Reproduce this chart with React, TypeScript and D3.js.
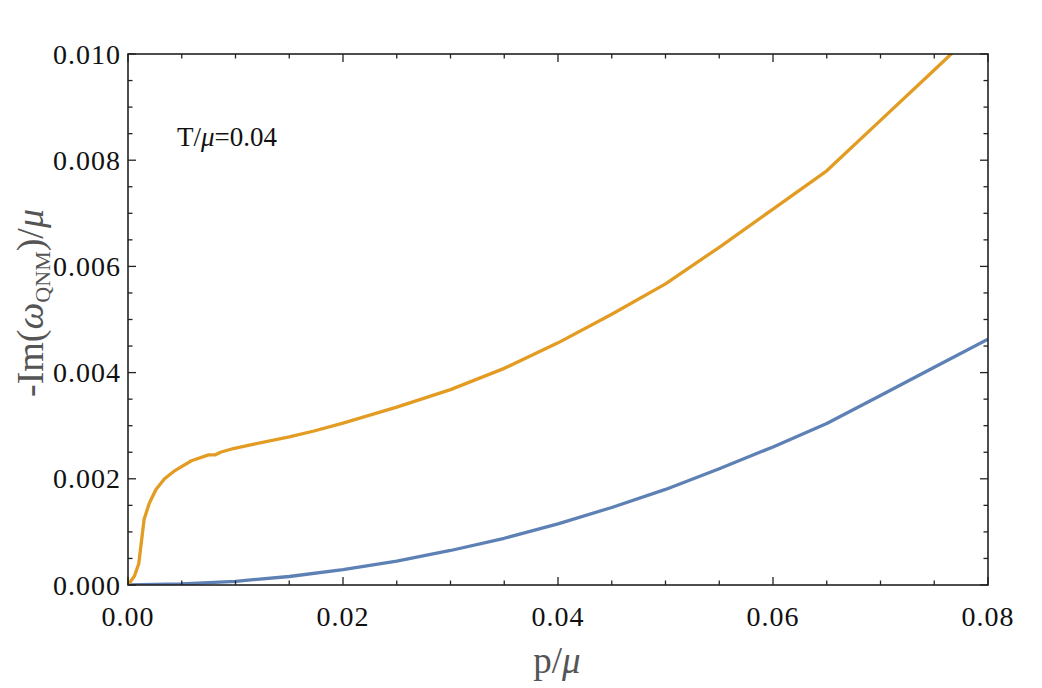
import React from "react";
import * as d3 from "d3";

const blueP = [0, 0.005, 0.01, 0.015, 0.02, 0.025, 0.03, 0.035, 0.04, 0.045, 0.05, 0.055, 0.06, 0.065, 0.07, 0.075, 0.08];
const blueV = [0, 0.00002, 0.00007, 0.00016, 0.00029, 0.00045, 0.00065, 0.00088, 0.00115, 0.00146, 0.0018, 0.00219, 0.0026, 0.00304, 0.00357, 0.0041, 0.00463];

const orangeP = [0, 0.0006, 0.001, 0.0015, 0.002, 0.0026, 0.0034, 0.0044, 0.0059, 0.0075, 0.0081, 0.0086, 0.0098, 0.0114, 0.015, 0.0173, 0.02, 0.025, 0.03, 0.035, 0.04, 0.045, 0.05, 0.055, 0.06, 0.065, 0.07, 0.075, 0.08];
const orangeV = [0, 0.00017, 0.0004, 0.00124, 0.00155, 0.0018, 0.002, 0.00216, 0.00234, 0.00245, 0.00245, 0.0025, 0.00257, 0.00264, 0.00279, 0.0029, 0.00305, 0.00335, 0.00368, 0.00408, 0.00456, 0.0051, 0.00567, 0.00636, 0.00708, 0.0078, 0.00875, 0.0097, 0.01065];

const xMajor = [0, 0.02, 0.04, 0.06, 0.08];
const xMajorLabels = ["0.00", "0.02", "0.04", "0.06", "0.08"];
const yMajor = [0, 0.002, 0.004, 0.006, 0.008, 0.01];
const yMajorLabels = ["0.000", "0.002", "0.004", "0.006", "0.008", "0.010"];

const W = 1042, H = 688;
const L = 128, R = 988, T = 54, B = 585;
const FONT = "'Liberation Serif', 'Times New Roman', serif";

export default function App() {
  const x = d3.scaleLinear().domain([0, 0.08]).range([L, R]);
  const y = d3.scaleLinear().domain([0, 0.01]).range([B, T]);
  const line = d3.line<[number, number]>().x(d => x(d[0])).y(d => y(d[1]));
  const blue = blueP.map((p, i) => [p, blueV[i]] as [number, number]);
  const orange = orangeP.map((p, i) => [p, orangeV[i]] as [number, number]);

  const xMinor = d3.range(0, 0.0801, 0.005).filter(v => !xMajor.some(m => Math.abs(m - v) < 1e-9));
  const yMinor = d3.range(0, 0.01001, 0.0005).filter(v => !yMajor.some(m => Math.abs(m - v) < 1e-9));
  const maj = 8, mn = 4.5;
  const tc = "#222";

  return (
    <svg width={W} height={H} style={{ position: "absolute", left: 0, top: 0, background: "#fff" }}>
      <defs>
        <clipPath id="plotclip">
          <rect x={L} y={T} width={R - L} height={B - T} />
        </clipPath>
      </defs>
      <g clipPath="url(#plotclip)" fill="none" strokeWidth={3.3} strokeLinejoin="round">
        <path d={line(blue) || ""} stroke="#5E81B5" />
        <path d={line(orange) || ""} stroke="#E39C23" />
      </g>
      <g stroke={tc} strokeWidth={1.3}>
        {xMajor.map((v, i) => (
          <g key={"xm" + i}>
            <line x1={x(v)} x2={x(v)} y1={B} y2={B - maj} />
            <line x1={x(v)} x2={x(v)} y1={T} y2={T + maj} />
          </g>
        ))}
        {xMinor.map((v, i) => (
          <g key={"xn" + i}>
            <line x1={x(v)} x2={x(v)} y1={B} y2={B - mn} />
            <line x1={x(v)} x2={x(v)} y1={T} y2={T + mn} />
          </g>
        ))}
        {yMajor.map((v, i) => (
          <g key={"ym" + i}>
            <line x1={L} x2={L + maj} y1={y(v)} y2={y(v)} />
            <line x1={R} x2={R - maj} y1={y(v)} y2={y(v)} />
          </g>
        ))}
        {yMinor.map((v, i) => (
          <g key={"yn" + i}>
            <line x1={L} x2={L + mn} y1={y(v)} y2={y(v)} />
            <line x1={R} x2={R - mn} y1={y(v)} y2={y(v)} />
          </g>
        ))}
      </g>
      <rect x={L} y={T} width={R - L} height={B - T} fill="none" stroke={tc} strokeWidth={1.6} />
      <g fontFamily={FONT} fontSize={28} fill="#111">
        {xMajor.map((v, i) => (
          <text key={"xl" + i} x={x(v)} y={626} textAnchor="middle" letterSpacing={1}>{xMajorLabels[i]}</text>
        ))}
        {yMajor.map((v, i) => (
          <text key={"yl" + i} x={121} y={y(v) + 9.5} textAnchor="end" letterSpacing={1}>{yMajorLabels[i]}</text>
        ))}
      </g>
      <text x={177} y={146} fontFamily={FONT} fontSize={27} fill="#111">
        T/<tspan fontStyle="italic">μ</tspan>=0.04
      </text>
      <text x={557} y={673} fontFamily={FONT} fontSize={37} fill="#555" textAnchor="middle">
        p/<tspan fontStyle="italic">μ</tspan>
      </text>
      <text transform="translate(43,303) rotate(-90)" fontFamily={FONT} fontSize={38} fill="#555" textAnchor="middle">
        -Im(<tspan fontStyle="italic">ω</tspan><tspan fontSize={22} dy={7}>QNM</tspan><tspan dy={-7}>)/</tspan><tspan fontStyle="italic">μ</tspan>
      </text>
    </svg>
  );
}
